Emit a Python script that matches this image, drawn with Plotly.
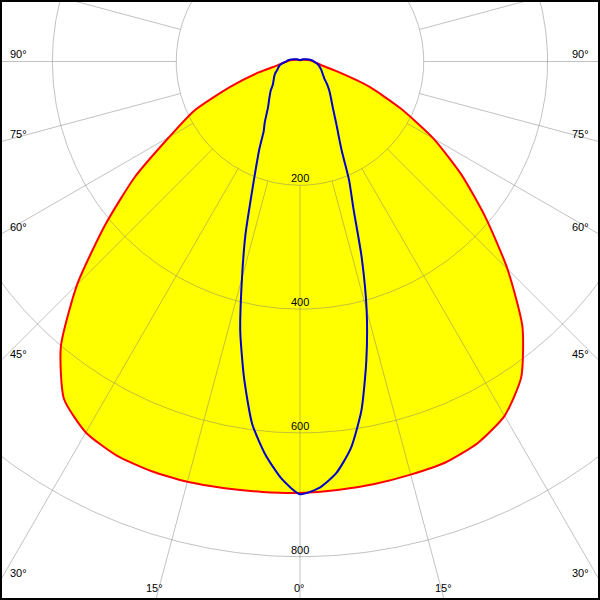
import numpy as np
import plotly.graph_objects as go

# Luminous intensity distribution (cd/klm). Angle gamma in degrees,
# positive = left half of the diagram, negative = right half.
red_angles = [-180, -150, -120, -100, -90, -85, -80, -75, -70, -65, -60, -55, -50, -45,
              -40, -35, -30, -25, -20, -15, -10, -5, 0, 5, 10, 15, 20, 25, 30, 35, 40,
              45, 50, 55, 60, 65, 70, 75, 80, 85, 90, 100, 120, 150, 180]
red_values = [2, 3, 6, 14, 22, 27, 35, 62, 119, 179, 249, 318, 391, 474,
              559, 623, 661, 680, 689, 691, 693, 695, 697, 698, 700, 703, 704, 702, 692, 665, 601,
              509, 411, 326, 244, 189, 120, 70, 38, 28, 22, 14, 6, 3, 2]

blue_angles = [-180, -150, -135, -120, -110, -100, -95, -90, -85, -80, -70, -60, -55, -50,
               -45, -40, -35, -30, -27.5, -25, -22.5, -20, -17.5, -15, -12.5, -10, -7.5, -5,
               -2.5, 0, 2.5, 5, 7.5, 10, 12.5, 15, 17.5, 20, 22.5, 25, 27.5, 30, 35, 40, 45,
               50, 55, 60, 65, 70, 75, 80, 85, 90, 95, 100, 110, 120, 135, 150, 180]
blue_values = [2.4, 3, 4.5, 7, 11, 17, 20, 22, 26, 30, 36, 43, 48, 57,
               67, 78, 93, 118, 135, 160, 207, 252, 331, 416, 495, 572, 630, 668,
               690, 699, 675, 638, 591, 520, 446, 362, 293, 229, 186, 155, 127, 114, 90, 77, 67,
               57, 52, 48, 44, 39, 36, 33, 28, 22, 20, 17, 11, 7, 4.5, 3, 2.4]

ring_values = [200, 400, 600, 800, 1000]
ring_labels = ["200", "400", "600", "800"]
spoke_angles = list(range(0, 360, 15))
left_edge_labels = [90, 75, 60, 45, 30]
bottom_labels = [15, 0, -15]
right_edge_labels = [-30, -45, -60, -75, -90]

PX = 0.619            # pixels per cd
K = 1.0 / PX
XMIN, XMAX = -300 * K, 300 * K
YMAX, YMIN = 61.5 * K, -538.5 * K


def to_xy(angles, values):
    a = np.deg2rad(np.asarray(angles, dtype=float))
    r = np.asarray(values, dtype=float)
    return -r * np.sin(a), -r * np.cos(a)


fig = go.Figure()

# yellow fill of the red curve
rx, ry = to_xy(red_angles, red_values)
fig.add_trace(go.Scatter(x=rx, y=ry, mode="lines", fill="toself",
                         fillcolor="#FFFF00",
                         line=dict(width=0, color="#FFFF00", shape="spline", smoothing=0.6),
                         hoverinfo="skip", showlegend=False))

grid_col = "rgba(120,120,120,0.45)"
# rings
t = np.linspace(0, 360, 721)
for rv in ring_values:
    gx, gy = to_xy(t, np.full_like(t, rv))
    fig.add_trace(go.Scatter(x=gx, y=gy, mode="lines",
                             line=dict(color=grid_col, width=1),
                             hoverinfo="skip", showlegend=False))
# spokes
sx, sy = [], []
for a in spoke_angles:
    px_, py_ = to_xy([a, a], [200, 1300])
    sx += list(px_) + [None]
    sy += list(py_) + [None]
fig.add_trace(go.Scatter(x=sx, y=sy, mode="lines",
                         line=dict(color=grid_col, width=1),
                         hoverinfo="skip", showlegend=False))

# curves
fig.add_trace(go.Scatter(x=rx, y=ry, mode="lines",
                         line=dict(color="#FF0000", width=2, shape="spline", smoothing=0.6),
                         hoverinfo="skip", showlegend=False))
bx, by = to_xy(blue_angles, blue_values)
fig.add_trace(go.Scatter(x=bx, y=by, mode="lines",
                         line=dict(color="#0000CC", width=2, shape="spline", smoothing=0.6),
                         hoverinfo="skip", showlegend=False))

font = dict(family="Liberation Sans, Arial, sans-serif", size=11, color="black")
ann = []
for lab in ring_labels:
    v = float(lab)
    ann.append(dict(x=0, y=-v, text=lab, showarrow=False, xanchor="center",
                    yanchor="middle", yshift=7, font=font))
for a in left_edge_labels:
    ar = np.deg2rad(a)
    ty = -(300 * K) / np.tan(ar) if a != 90 else 0.0
    ann.append(dict(x=XMIN + 8 * K, y=ty, text=f"{a}°", showarrow=False,
                    xanchor="left", yanchor="middle", yshift=8, font=font))
for a in right_edge_labels:
    ar = np.deg2rad(-a)
    ty = -(300 * K) / np.tan(ar) if a != -90 else 0.0
    ann.append(dict(x=XMAX - 9 * K, y=ty, text=f"{abs(a)}°", showarrow=False,
                    xanchor="right", yanchor="middle", yshift=8, font=font))
for a in bottom_labels:
    ar = np.deg2rad(a)
    tx = -(538.5 * K) * np.tan(ar)
    ann.append(dict(x=tx, y=YMIN, text=f"{abs(a)}°", showarrow=False,
                    xanchor="center", yanchor="middle", yshift=12, xshift=-1, font=font))

fig.update_layout(
    width=600, height=600,
    margin=dict(l=0, r=0, t=0, b=0),
    paper_bgcolor="white", plot_bgcolor="white",
    xaxis=dict(range=[XMIN, XMAX], visible=False, fixedrange=True),
    yaxis=dict(range=[YMIN, YMAX], visible=False, fixedrange=True),
    annotations=ann,
    shapes=[dict(type="rect", xref="paper", yref="paper", x0=0, y0=0, x1=1, y1=1,
                 line=dict(color="black", width=4), layer="above")],
    showlegend=False,
)

fig.write_html(
    "out.html",
    config={"displayModeBar": False},
    post_script="document.body.style.margin='0';document.body.style.padding='0';"
                "document.body.style.overflow='hidden';",
)
